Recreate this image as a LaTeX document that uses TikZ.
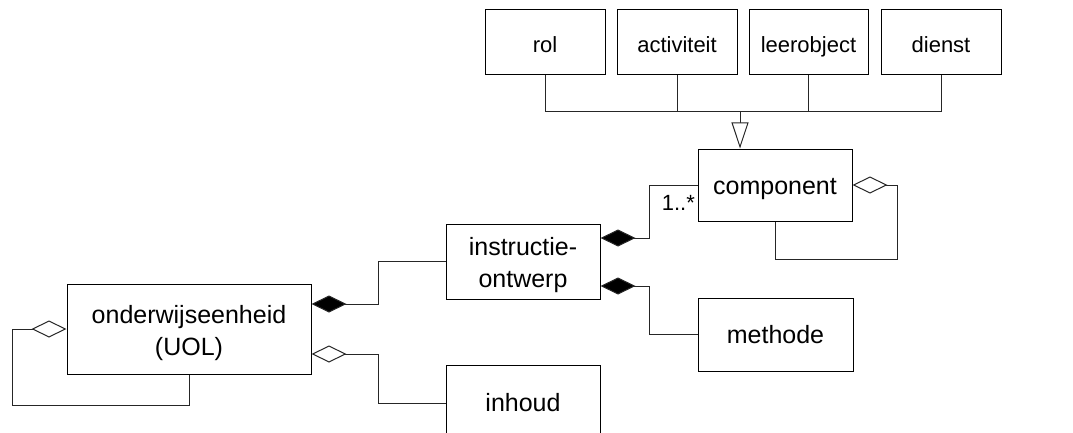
\documentclass[tikz,border=0pt]{standalone}
\usepackage{fontspec}
\setmainfont{Liberation Sans}
\usetikzlibrary{arrows.meta,calc}
\begin{document}
\begin{tikzpicture}[x=1pt,y=-1pt,
  box/.style={draw=black,line width=1pt,fill=white,inner sep=0pt,align=center,
    font=\fontsize{25}{32}\selectfont,text height=18pt,text depth=0pt},
  twobox/.style={box,text height=52pt,text depth=0pt},
  smallbox/.style={box,font=\fontsize{22}{26}\selectfont,text height=21pt,text depth=0pt},
  conn/.style={draw=black!85,line width=1pt},
  comp/.style={conn,-{Diamond[fill=black,length=35pt,width=17pt,line width=1pt]}},
  agg/.style={conn,-{Diamond[open,fill=white,length=35pt,width=17pt,line width=1pt]}},
  gen/.style={conn,-{Triangle[open,fill=white,length=26pt,width=17pt,line width=1pt]}}]
\clip (0,0) rectangle (1073,433);
\fill[white] (0,0) rectangle (1073,433);
% top classes
\node[smallbox,minimum width=120pt,minimum height=65pt] (rol) at (545,42.5) {rol};
\node[smallbox,minimum width=120pt,minimum height=65pt] (act) at (677,42.5) {activiteit};
\node[smallbox,minimum width=119pt,minimum height=65pt] (leer) at (808.5,42.5) {leerobject};
\node[smallbox,minimum width=120pt,minimum height=65pt] (dienst) at (941,42.5) {dienst};
% main classes
\node[box,minimum width=154pt,minimum height=72pt] (component) at (775,185) {component};
\node[twobox,minimum width=154pt,minimum height=75pt] (instr) at (523,261.5) {instructie-\\ontwerp};
\node[twobox,minimum width=244pt,minimum height=90pt] (onder) at (189,329) {onderwijseenheid\\(UOL)};
\node[box,minimum width=155pt,minimum height=73pt] (methode) at (775.5,334.5) {methode};
\node[box,text height=16pt,minimum width=154pt,minimum height=76pt] (inhoud) at (523,403) {inhoud};
% bend coordinates
\coordinate (g) at (740,112);
\coordinate (bA) at (649,185);
\coordinate (bB) at (649,286);
\coordinate (bC) at (378,304);
\coordinate (bD) at (378,354);
\coordinate (bE) at (12,405);
\coordinate (bF) at (897,259);
% generalization
\draw[conn] (rol.south) |- (dienst.south |- g) -- (dienst.south);
\draw[conn] (act.south) -- (act.south |- g);
\draw[conn] (leer.south) -- (leer.south |- g);
\draw[gen] (g) -- (g |- component.north);
% compositions
\draw[comp] (component.west) -- (bA) |- ($(instr.east)+(0,-23.5)$);
\draw[comp] (methode.west) -| (bB) -- ($(instr.east)+(0,24.5)$);
\draw[comp] (instr.west) -| (bC) -- ($(onder.east)+(0,-25)$);
% aggregations
\draw[agg] (inhoud.west) -| (bD) -- ($(onder.east)+(0,25)$);
\draw[agg] (onder.south) |- (bE) |- (onder.west);
\draw[agg] (component.south) |- (bF) |- (component.east);
% multiplicity
\node[anchor=base east,inner sep=0pt,font=\fontsize{22}{26}\selectfont] (mult) at (695,210) {1..*};
\end{tikzpicture}
\end{document}
